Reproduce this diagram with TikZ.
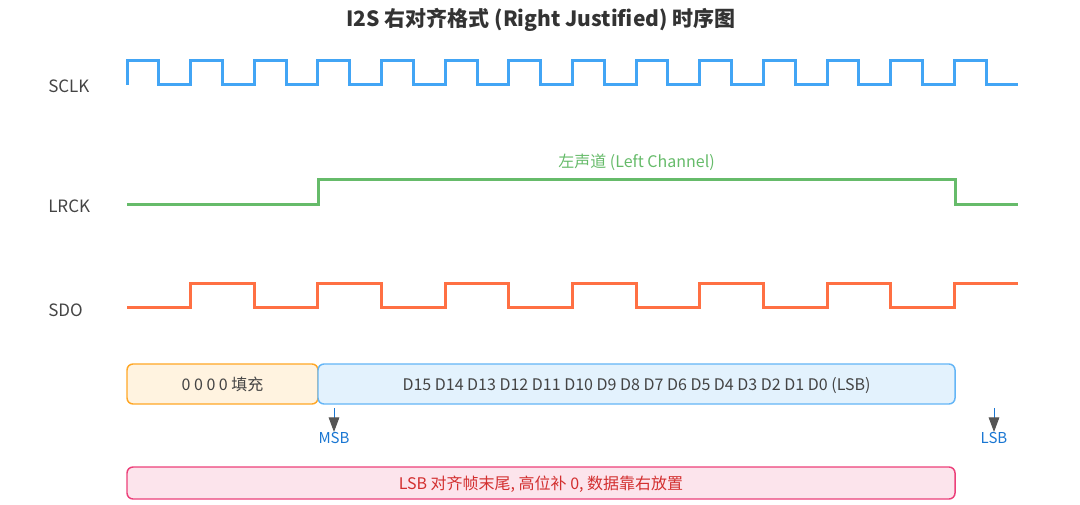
\documentclass[tikz,border=0pt]{standalone}
\usepackage{fontspec}
\setmainfont{Noto Sans CJK SC}
\usetikzlibrary{arrows.meta}
\definecolor{sclkc}{HTML}{42A5F5}
\definecolor{lrckc}{HTML}{66BB6A}
\definecolor{sdoc}{HTML}{FF7043}
\definecolor{orfill}{HTML}{FFF3E0}
\definecolor{ordraw}{HTML}{FFA726}
\definecolor{blfill}{HTML}{E3F2FD}
\definecolor{bldraw}{HTML}{64B5F6}
\definecolor{pkfill}{HTML}{FCE4EC}
\definecolor{pkdraw}{HTML}{EC407A}
\definecolor{pktext}{HTML}{D32F2F}
\definecolor{labtext}{HTML}{444444}
\definecolor{titletext}{HTML}{333333}
\definecolor{bitblue}{HTML}{1976D2}
\definecolor{arrowgray}{HTML}{555555}
\tikzset{
  wave/.style={line width=2.25pt, line join=miter},
  siglabel/.style={anchor=base west, inner sep=0pt, text=labtext, font=\fontsize{12.75pt}{15pt}\selectfont},
  boxtext/.style={anchor=base, inner sep=0pt, text=labtext, font=\fontsize{12pt}{14pt}\selectfont},
  databox/.style={rounded corners=4.5pt, line width=1.1pt},
  bitlabel/.style={anchor=base, inner sep=0pt, text=bitblue, font=\fontsize{11.25pt}{13pt}\selectfont},
  bitarrow/.style={draw=bitblue, line width=0.75pt, -{Triangle[length=11pt,width=8pt,color=arrowgray]}}
}
\begin{document}
\begin{tikzpicture}[x=0.75pt,y=-0.75pt]
\useasboundingbox (0,0) rectangle (1080,505);
\def\u{63.643}
\def\h{31.8215}
% title
\node[anchor=base, inner sep=0pt, text=titletext, font=\fontsize{15.75pt}{18pt}\selectfont\bfseries] (title) at (541,27) {I2S 右对齐格式 (Right Justified) 时序图};
% signal labels
\node[siglabel] (lsclk) at (48,93) {SCLK};
\node[siglabel] (llrck) at (48,213) {LRCK};
\node[siglabel] (lsdo) at (48,317) {SDO};
% SCLK
\draw[wave, draw=sclkc] (127,85) -- (127,61)
  foreach \k in {1,...,13}{ -- ++(\h,0) -- ++(0,24) -- ++(\h,0) -- ++(0,-24) }
  -- ++(\h,0) -- ++(0,24) -- ++(\h,0);
% LRCK
\draw[wave, draw=lrckc] (127,205) -- (318,205) -- (318,180) -- (955,180) -- (955,205) -- (1018,205);
\node[anchor=base, inner sep=0pt, text=lrckc, font=\fontsize{12pt}{14pt}\selectfont] (lch) at (636.5,168) {左声道 (Left Channel)};
% SDO
\draw[wave, draw=sdoc] (127,308) -- ++(\u,0)
  foreach \k in {1,...,6}{ -- ++(0,-24) -- ++(\u,0) -- ++(0,24) -- ++(\u,0) }
  -- ++(0,-24) -- ++(\u,0);
% boxes
\draw[databox, fill=orfill, draw=ordraw] (127,364) rectangle (318,404);
\draw[databox, fill=blfill, draw=bldraw] (318,364) rectangle (955,404);
\node[boxtext] (pad) at (222.5,391) {0 0 0 0 填充};
\node[boxtext] (data) at (636.5,391) {D15 D14 D13 D12 D11 D10 D9 D8 D7 D6 D5 D4 D3 D2 D1 D0 (LSB)};
\draw[databox, fill=pkfill, draw=pkdraw] (127,467) rectangle (955,499);
\node[boxtext, text=pktext] (note) at (541,489) {LSB 对齐帧末尾, 高位补 0, 数据靠右放置};
% MSB / LSB markers
\coordinate (msbtop) at (334,408);
\coordinate (msbtip) at (334,432);
\coordinate (lsbtop) at (994,408);
\coordinate (lsbtip) at (994,432);
\node[bitlabel] (msb) at (334,443) {MSB};
\node[bitlabel] (lsb) at (994,443) {LSB};
\draw[bitarrow] (msbtop) -- (msbtip);
\draw[bitarrow] (lsbtop) -- (lsbtip);
\end{tikzpicture}
\end{document}
